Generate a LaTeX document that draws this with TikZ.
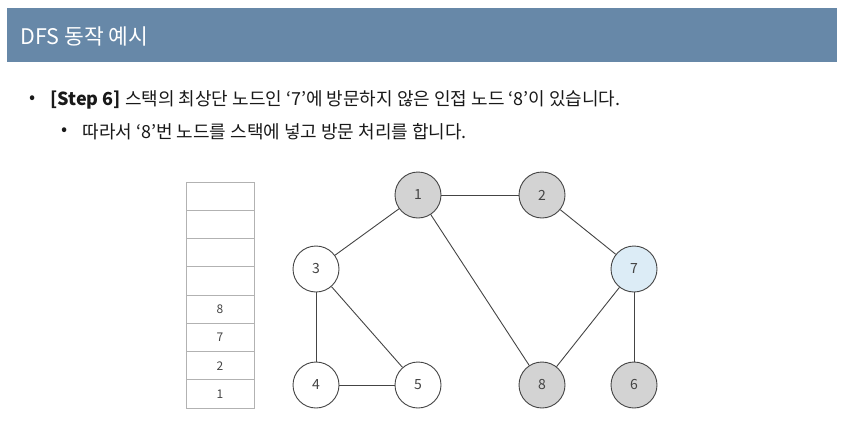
\documentclass[tikz,border=0pt]{standalone}
\usepackage{fontspec}
\setmainfont{Noto Sans CJK KR}
\usetikzlibrary{positioning}
\definecolor{Header}{HTML}{6788A8}
\definecolor{Visited}{HTML}{D3D3D3}
\definecolor{Current}{HTML}{DCECF6}
\definecolor{Ink}{HTML}{444444}

\begin{document}
\begin{tikzpicture}[x=1pt,y=-1pt,font=\fontsize{18}{21}\selectfont,
  vert/.style={circle,draw=Ink,line width=0.9pt,fill=white,minimum size=46pt,inner sep=0pt,
    font=\fontsize{14}{16}\selectfont,text=Ink},
  cell/.style={draw=black!30,line width=0.8pt,minimum width=68pt,minimum height=28.25pt,
    inner sep=0pt,outer sep=0pt,font=\fontsize{12}{14}\selectfont,text=Ink},
  link/.style={draw=Ink,line width=0.9pt}]
  \useasboundingbox (0,0) rectangle (844,426);
  % title bar
  \fill[Header] (7,8) rectangle (837,62);
  \node[anchor=west,text=white,font=\fontsize{21.5}{24}\selectfont] (title) at (17,36) {DFS 동작 예시};
  % bullets
  \node[text=black!90] (dot1) at (33,100) {•};
  \node[anchor=west,text=black!90] (line1) at (47,100) {\textbf{[Step 6]} 스택의 최상단 노드인 ‘7’에 방문하지 않은 인접 노드 ‘8’이 있습니다.};
  \node[text=black!90] (dot2) at (65,132) {•};
  \node[anchor=west,text=black!90] (line2) at (79,132) {따라서 ‘8’번 노드를 스택에 넣고 방문 처리를 합니다.};
  % stack
  \node[cell] (s1) at (220,394) {1};
  \foreach \i/\t [remember=\i as \j (initially 1)] in {2/2,3/7,4/8,5/,6/,7/,8/}
    \node[cell,above=0pt of s\j] (s\i) {\t};
  % graph
  \node[vert,fill=Visited] (v1) at (418,195) {1};
  \node[vert,fill=Visited] (v2) at (542,195) {2};
  \node[vert] (v3) at (316,269) {3};
  \node[vert,fill=Current] (v7) at (634,269) {7};
  \node[vert] (v4) at (316,385) {4};
  \node[vert] (v5) at (418,385) {5};
  \node[vert,fill=Visited] (v8) at (542,385) {8};
  \node[vert,fill=Visited] (v6) at (634,385) {6};
  \foreach \a/\b in {1/2,1/3,1/8,2/7,3/4,3/5,4/5,7/8,7/6}
    \draw[link] (v\a) -- (v\b);
\end{tikzpicture}
\end{document}
